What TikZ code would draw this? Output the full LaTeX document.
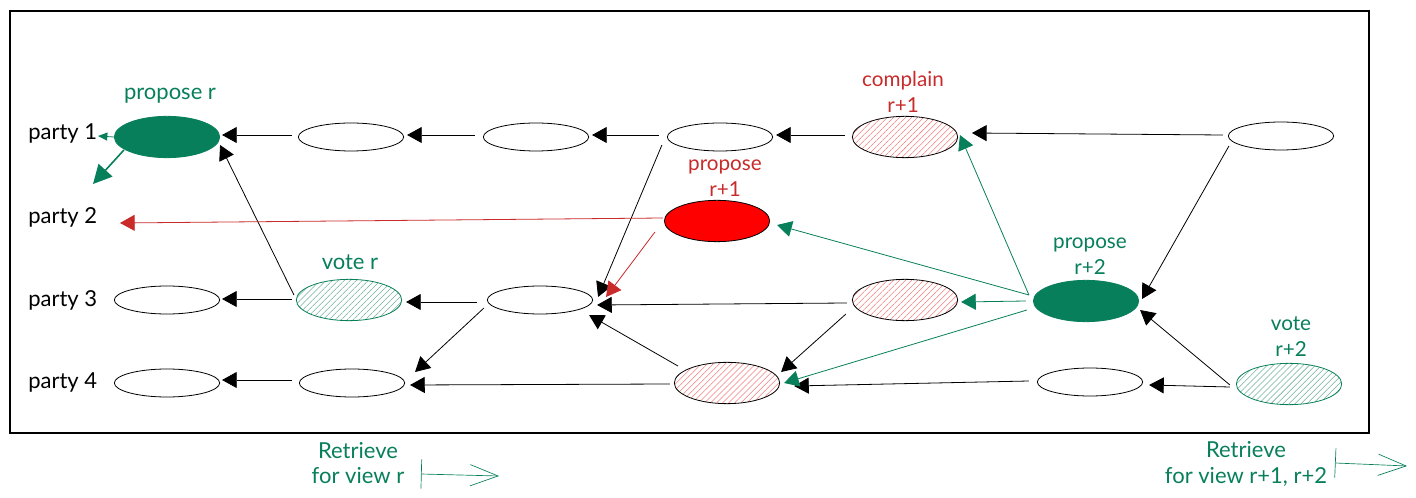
\documentclass[tikz,border=0pt]{standalone}
\usepackage{fontspec}
\setmainfont{Lato}
\usetikzlibrary{arrows.meta,shapes.geometric,patterns.meta}

\definecolor{votegreen}{HTML}{087F5B}
\definecolor{failred}{HTML}{C92A2A}
\definecolor{hatchred}{HTML}{F47C7C}
\definecolor{hatchgreen}{HTML}{6FB09B}

\tikzset{
  block/.style={draw,ellipse,line width=0.6pt,minimum width=79pt,minimum height=21pt,inner sep=0pt},
  bigblock/.style={block,minimum height=31pt},
  redblock/.style={bigblock,pattern={Lines[angle=45,distance=3.2pt,line width=0.4pt]},pattern color=hatchred},
  greenblock/.style={bigblock,draw=votegreen,pattern={Lines[angle=45,distance=3.2pt,line width=0.4pt]},pattern color=hatchgreen},
  leader/.style={bigblock,draw=votegreen,fill=votegreen},
  conn/.style={-{Triangle[length=11pt,width=12pt]},line width=0.6pt},
  greenconn/.style={conn,votegreen},
  redconn/.style={conn,failred},
  party/.style={font=\fontsize{16.5}{19}\selectfont,anchor=west,inner sep=0pt},
  greenlabel/.style={font=\fontsize{15.5}{19.5}\selectfont,text=votegreen,align=center,inner sep=0pt},
  redlabel/.style={greenlabel,text=failred},
  widelabel/.style={greenlabel,font=\fontsize{16.5}{19}\selectfont},
  retrieve/.style={{Bar[width=22pt,length=0pt]}-{Straight Barb[length=21pt,width=16pt]},votegreen,line width=0.5pt}
}

\begin{document}
\begin{tikzpicture}[x=0.75pt,y=-0.75pt]
        \useasboundingbox (0,0) rectangle (1416,498);

        % Frame
        \draw[line width=1.5pt] (10,11) rectangle (1369,433);

        % Party names
        \node[party] (name1) at (28,133) {party 1};
        \node[party] (name2) at (28,217) {party 2};
        \node[party] (name3) at (28,300) {party 3};
        \node[party] (name4) at (28,383) {party 4};

        % Party 1
        \node[leader]   (a1) at (167,137) {};
        \node[block]    (a2) at (351,137) {};
        \node[block]    (a3) at (536,137) {};
        \node[block]    (a4) at (720,137) {};
        \node[redblock] (a5) at (905,137) {};
        \node[block]    (a6) at (1281,136) {};

        % Party 2
        \node[bigblock,fill=red] (b1) at (717,221) {};

        % Party 3
        \node[block]      (c1) at (167,300) {};
        \node[greenblock] (c2) at (349,300) {};
        \node[block]      (c3) at (540,300) {};
        \node[redblock]   (c4) at (905,300) {};
        \node[leader]     (c5) at (1086,301) {};

        % Party 4
        \node[block]      (d1) at (167,383) {};
        \node[block]      (d2) at (352,383) {};
        \node[redblock]   (d3) at (727,383) {};
        \node[block]      (d4) at (1090,382) {};
        \node[greenblock] (d5) at (1289,384) {};

        % Labels
        \node[widelabel]  (lpropr) at (170,96) {propose r};
        \node[widelabel]  (lvoter) at (350,262) {vote r};
        \node[redlabel]   (lcompl) at (903,92) {complain\\r+1};
        \node[redlabel]   (lprop1) at (725,178) {propose\\r+1};
        \node[greenlabel] (lprop2) at (1090,256) {propose\\r+2};
        \node[greenlabel] (lvote2) at (1291,337) {vote\\r+2};
        \node[widelabel]  (lret1)  at (358,463) {Retrieve\\for view r};
        \node[widelabel]  (lret2)  at (1246,464) {Retrieve\\for view r+1, r+2};

        % Free ends
        \coordinate (out1) at (98,136);
        \coordinate (out2) at (93,184);
        \coordinate (out3) at (120,223);
        \coordinate (bar1) at (421,474);
        \coordinate (tip1) at (499,476);
        \coordinate (bar2) at (1335,463);
        \coordinate (tip2) at (1407,466);

        % Black links
        \draw[conn] ([shift={(-5,-1)}]a6.west) -- ([shift={(14,-4)}]a5.east);
        \draw[conn] ([shift={(-7,-2)}]a5.west) -- ([shift={(3,-2)}]a4.east);
        \draw[conn] ([shift={(-8,-2)}]a4.west) -- ([shift={(3,-2)}]a3.east);
        \draw[conn] ([shift={(-8,-2)}]a3.west) -- ([shift={(3,-2)}]a2.east);
        \draw[conn] ([shift={(-6,-2)}]a2.west) -- ([shift={(2,-2)}]a1.east);
        \draw[conn] ([shift={(-2,-5)}]c2.west) -- ([shift={(0,8)}]a1.east);
        \draw[conn] ([shift={(-5,8)}]a4.west) -- ([shift={(5,-3)}]c3.east);
        \draw[conn] ([shift={(1,10)}]a6.west) -- ([shift={(3,-2)}]c5.east);
        \draw[conn] ([shift={(-5,3)}]c4.west) -- ([shift={(4,5)}]c3.east);
        \draw[conn] ([shift={(-10,2)}]c3.west) -- ([shift={(4,2)}]c2.east);
        \draw[conn] ([shift={(-4,-1)}]c2.west) -- ([shift={(2,-1)}]c1.east);
        \draw[conn] ([shift={(-3,8)}]c3.west) -- ([shift={(10,-11)}]d2.east);
        \draw[conn] ([shift={(4,-17)}]d3.west) -- ([shift={(-4,15)}]c3.east);
        \draw[conn] ([shift={(-6,14)}]c4.west) -- ([shift={(1,-11)}]d3.east);
        \draw[conn] ([shift={(-8,-1)}]d4.west) -- ([shift={(14,3)}]d3.east);
        \draw[conn] ([shift={(-4,1)}]d3.west) -- ([shift={(5,2)}]d2.east);
        \draw[conn] ([shift={(-7,-3)}]d2.west) -- ([shift={(2,-3)}]d1.east);
        \draw[conn] ([shift={(-6,3)}]d5.west) -- ([shift={(6,3)}]d4.east);
        \draw[conn] ([shift={(-6,1)}]d5.west) -- ([shift={(1,9)}]c5.east);

        % Red links
        \draw[redconn] ([shift={(-1,-3)}]b1.west) -- (out3);
        \draw[redconn] ([shift={(-9,11)}]b1.west) -- ([shift={(13,-3)}]c3.east);

        % Green links
        \draw[greenconn] ([shift={(-4,-6)}]c5.west) -- ([shift={(2,-2)}]a5.east);
        \draw[greenconn] ([shift={(-4,-6)}]c5.west) -- ([shift={(7,4)}]b1.east);
        \draw[greenconn] ([shift={(-7,0)}]c5.west) -- ([shift={(3,2)}]c4.east);
        \draw[greenconn] ([shift={(-6,9)}]c5.west) -- ([shift={(4,0)}]d3.east);
        \draw[greenconn,-{Triangle[length=7pt,width=6pt]}] (a1.west) -- (out1);
        \draw[greenconn,line width=1.2pt,-{Triangle[length=14pt,width=14pt]}] ([shift={(10,13)}]a1.west) -- (out2);

        % Retrieve arrows
        \draw[retrieve] (bar1) -- (tip1);
        \draw[retrieve] (bar2) -- (tip2);
\end{tikzpicture}
\end{document}
